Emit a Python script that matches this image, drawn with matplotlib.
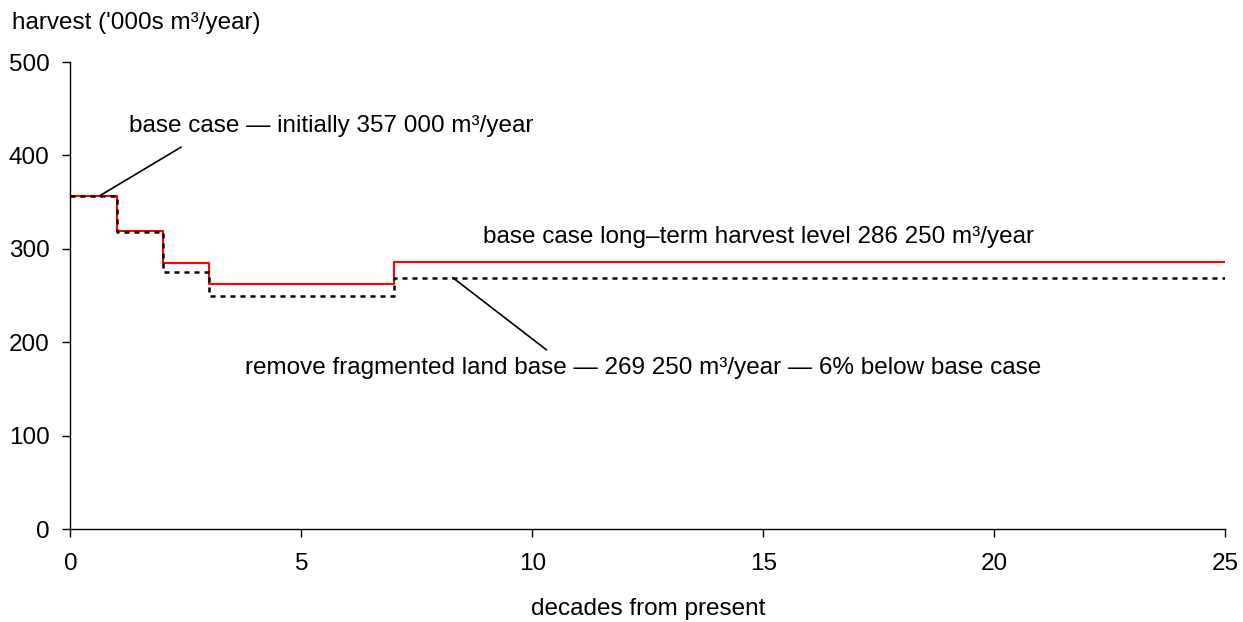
import matplotlib.pyplot as plt

plt.rcParams['font.family'] = ['Liberation Sans', 'DejaVu Sans']

# step start (decade) and harvest level ('000s m3/year)
decades = [0, 1, 2, 3, 7, 25]
base_case = [357, 319, 285, 263, 286.25, 286.25]
remove_fragmented = [357, 318, 275, 250, 269.25, 269.25]

fs = 17.5
fig = plt.figure(figsize=(12.43, 6.22), dpi=100)
ax = fig.add_axes([0.0566, 0.149, 0.9289, 0.7513])

ax.plot(decades, base_case, drawstyle='steps-post', color='#ff0000', lw=1.5)
ax.plot(decades, remove_fragmented, drawstyle='steps-post', color='black',
        lw=1.8, linestyle=(0, (2, 2)))

ax.set_xlim(0, 25)
ax.set_ylim(0, 500)
ax.set_xticks([0, 5, 10, 15, 20, 25])
ax.set_yticks([0, 100, 200, 300, 400, 500])
ax.spines['top'].set_visible(False)
ax.spines['right'].set_visible(False)
ax.tick_params(labelsize=fs, length=6, width=1)
ax.tick_params(axis='x', pad=11)
ax.tick_params(axis='y', pad=9)
for s in ['left', 'bottom']:
    ax.spines[s].set_linewidth(1)
fig.text(0.5215, 0.011, 'decades from present', fontsize=fs, ha='center', va='baseline')
fig.text(0.0095, 0.963, "harvest ('000s m³/year)", fontsize=fs, va='center')

# annotations
ax.text(5.64, 432, 'base case — initially 357 000 m³/year', fontsize=fs,
        ha='center', va='center')
ax.annotate('', xy=(0.64, 357), xytext=(2.4, 409),
            arrowprops=dict(arrowstyle='-', color='black', lw=1.2,
                            shrinkA=0, shrinkB=0))
ax.text(14.9, 313, 'base case long–term harvest level 286 250 m³/year',
        fontsize=fs, ha='center', va='center')
ax.annotate('', xy=(8.28, 269.25), xytext=(10.31, 192),
            arrowprops=dict(arrowstyle='-', color='black', lw=1.2,
                            shrinkA=0, shrinkB=0))
ax.text(12.4, 172.5, 'remove fragmented land base — 269 250 m³/year — 6% below base case',
        fontsize=fs, ha='center', va='center')

plt.savefig('out.png', dpi=100)
